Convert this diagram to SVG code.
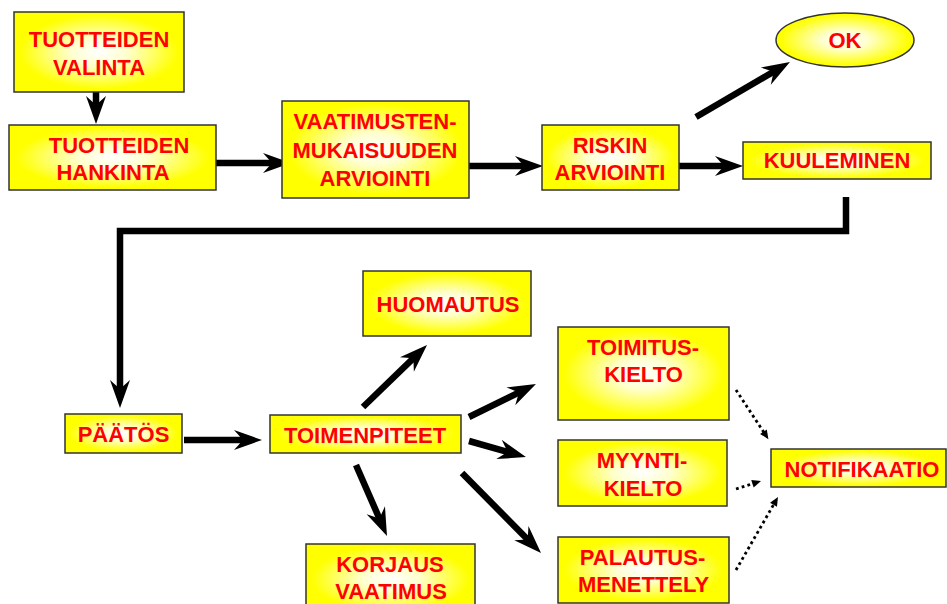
<svg xmlns="http://www.w3.org/2000/svg" width="947" height="604" viewBox="0 0 947 604">
<defs>
<radialGradient id="g" cx="50%" cy="50%" r="55%">
<stop offset="0" stop-color="#ffffff"/>
<stop offset="0.3" stop-color="#ffffd0"/>
<stop offset="0.85" stop-color="#ffff00"/>
</radialGradient>
<marker id="ah" markerUnits="userSpaceOnUse" markerWidth="30" markerHeight="20" refX="16" refY="10" orient="auto" overflow="visible">
<path d="M0,0 L28,10 L0,20 L9,10 z" fill="#000"/>
</marker>
<marker id="dh" markerUnits="userSpaceOnUse" markerWidth="10" markerHeight="8" refX="3" refY="4" orient="auto" overflow="visible">
<path d="M0,0 L9,4 L0,8 z" fill="#000"/>
</marker>
</defs>
<style>
.b{fill:url(#g);stroke:#333;stroke-width:1.5}
.t{font-family:"Liberation Sans",Arial,sans-serif;font-weight:bold;font-size:22px;fill:#ff0000;text-anchor:middle}
.a{fill:none;stroke:#000;stroke-width:6.5;marker-end:url(#ah)}
.c{fill:none;stroke:#000;stroke-width:6.5}
.d{fill:none;stroke:#000;stroke-width:2.8;stroke-dasharray:2.8 3.2;marker-end:url(#dh)}
</style>
<rect width="947" height="604" fill="#fff"/>
<g id="connectors">
<line class="a" x1="96" y1="92" x2="96" y2="112"/>
<line class="a" x1="216" y1="163" x2="279" y2="163"/>
<line class="a" x1="469" y1="166" x2="531" y2="166"/>
<line class="a" x1="679" y1="166" x2="731" y2="166"/>
<line class="a" x1="696" y1="117" x2="779.6" y2="68.1"/>
<polyline class="c" points="846,197 846,231 120,231 120,396" style="marker-end:url(#ah)"/>
<line class="a" x1="184" y1="440" x2="250" y2="440"/>
<line class="a" x1="363" y1="407" x2="418.4" y2="353.4"/>
<line class="a" x1="356" y1="465" x2="382.2" y2="525"/>
<line class="a" x1="469" y1="417" x2="525.2" y2="389.3"/>
<line class="a" x1="469" y1="441" x2="514.4" y2="453.8"/>
<line class="a" x1="462" y1="473" x2="532.6" y2="544.5"/>
<line class="d" x1="736" y1="390" x2="765.1" y2="434.2"/>
<line class="d" x1="736" y1="489" x2="755.3" y2="482.8"/>
<line class="d" x1="736" y1="570" x2="775" y2="502.2"/>
</g>
<g id="valinta"><rect class="b" x="14" y="12" width="170" height="80"/><text class="t" x="99" y="47">TUOTTEIDEN</text><text class="t" x="99" y="75">VALINTA</text></g>
<g id="hankinta"><rect class="b" x="9" y="125" width="207" height="65"/><text class="t" x="119" y="153">TUOTTEIDEN</text><text class="t" x="113" y="180">HANKINTA</text></g>
<g id="vaatimus"><rect class="b" x="282" y="101" width="187" height="97"/><text class="t" x="375" y="129">VAATIMUSTEN-</text><text class="t" x="375" y="158">MUKAISUUDEN</text><text class="t" x="375" y="186">ARVIOINTI</text></g>
<g id="riski"><rect class="b" x="542" y="125" width="137" height="65"/><text class="t" x="610" y="153">RISKIN</text><text class="t" x="610" y="180">ARVIOINTI</text></g>
<g id="kuuleminen"><rect class="b" x="743" y="142" width="188" height="37"/><text class="t" x="837" y="168">KUULEMINEN</text></g>
<g id="ok"><ellipse class="b" cx="845" cy="40" rx="69" ry="27"/><text class="t" x="845" y="48">OK</text></g>
<g id="paatos"><rect class="b" x="65" y="414" width="117" height="39"/><text class="t" x="123.5" y="442">PÄÄTÖS</text></g>
<g id="toimenpiteet"><rect class="b" x="270" y="415" width="191" height="38"/><text class="t" x="365" y="443">TOIMENPITEET</text></g>
<g id="huomautus"><rect class="b" x="363" y="271" width="168" height="65"/><text class="t" x="448" y="312">HUOMAUTUS</text></g>
<g id="korjaus"><rect class="b" x="306" y="544" width="169" height="70"/><text class="t" x="390" y="572">KORJAUS</text><text class="t" x="391" y="599">VAATIMUS</text></g>
<g id="toimituskielto"><rect class="b" x="558" y="327" width="171" height="93"/><text class="t" x="643" y="355">TOIMITUS-</text><text class="t" x="643.5" y="382">KIELTO</text></g>
<g id="myyntikielto"><rect class="b" x="558" y="440" width="169" height="66"/><text class="t" x="642" y="468">MYYNTI-</text><text class="t" x="643" y="496">KIELTO</text></g>
<g id="palautus"><rect class="b" x="558" y="537" width="171" height="66"/><text class="t" x="642.5" y="565">PALAUTUS-</text><text class="t" x="643.5" y="592">MENETTELY</text></g>
<g id="notifikaatio"><rect class="b" x="771" y="449" width="175" height="38"/><text class="t" x="862" y="477">NOTIFIKAATIO</text></g>
</svg>
